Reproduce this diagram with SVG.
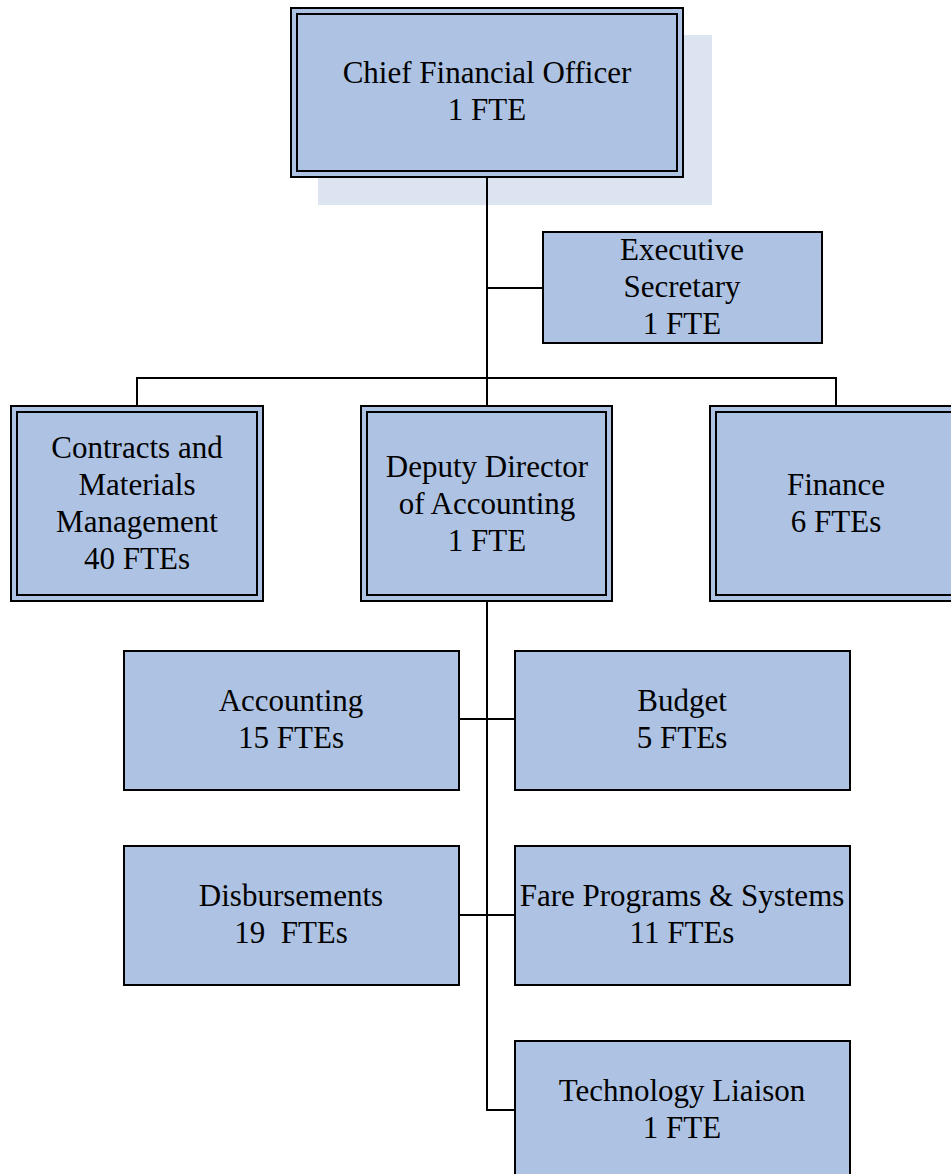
<svg xmlns="http://www.w3.org/2000/svg" width="951" height="1174" viewBox="0 0 951 1174">
<style>
.box{fill:#AEC3E3;stroke:#000;stroke-width:2}
.inner{fill:none;stroke:#000;stroke-width:2}
.t{font-family:"Liberation Serif","Times New Roman",serif;font-size:31px;fill:#000;text-anchor:middle;white-space:pre}
.c{fill:none;stroke:#000;stroke-width:2}
</style>
<rect x="0" y="0" width="951" height="1174" fill="#fff"/>
<g id="cfo-shadow">
<rect x="318" y="35" width="394" height="170" fill="#DCE3F1"/>
</g>
<g id="connectors">
<path class="c" d="M487,177 V406"/>
<path class="c" d="M487,288 H543"/>
<path class="c" d="M137,406 V378 H836 V406"/>
<path class="c" d="M487,601 V1110 H515"/>
<path class="c" d="M459,719 H515"/>
<path class="c" d="M459,915 H515"/>
</g>
<g id="cfo">
<rect class="box" x="291" y="8" width="392" height="169"/>
<rect class="inner" x="297" y="14" width="380" height="157"/>
<text class="t" x="487" y="83">Chief Financial Officer</text>
<text class="t" x="487" y="120">1 FTE</text>
</g>
<g id="exec">
<rect class="box" x="543" y="232" width="279" height="111"/>
<text class="t" x="682" y="260">Executive</text>
<text class="t" x="682" y="297">Secretary</text>
<text class="t" x="682" y="334">1 FTE</text>
</g>
<g id="contracts">
<rect class="box" x="11" y="406" width="252" height="195"/>
<rect class="inner" x="17" y="412" width="240" height="183"/>
<text class="t" x="137" y="458">Contracts and</text>
<text class="t" x="137" y="495">Materials</text>
<text class="t" x="137" y="532">Management</text>
<text class="t" x="137" y="569">40 FTEs</text>
</g>
<g id="deputy">
<rect class="box" x="361" y="406" width="251" height="195"/>
<rect class="inner" x="367" y="412" width="239" height="183"/>
<text class="t" x="487" y="477">Deputy Director</text>
<text class="t" x="487" y="514">of Accounting</text>
<text class="t" x="487" y="551">1 FTE</text>
</g>
<g id="finance">
<rect class="box" x="710" y="406" width="252" height="195"/>
<rect class="inner" x="716" y="412" width="240" height="183"/>
<text class="t" x="836" y="495">Finance</text>
<text class="t" x="836" y="532">6 FTEs</text>
</g>
<g id="accounting">
<rect class="box" x="124" y="651" width="335" height="139"/>
<text class="t" x="291" y="711">Accounting</text>
<text class="t" x="291" y="748">15 FTEs</text>
</g>
<g id="budget">
<rect class="box" x="515" y="651" width="335" height="139"/>
<text class="t" x="682" y="711">Budget</text>
<text class="t" x="682" y="748">5 FTEs</text>
</g>
<g id="disbursements">
<rect class="box" x="124" y="846" width="335" height="139"/>
<text class="t" x="291" y="906">Disbursements</text>
<text class="t" x="291" y="943">19  FTEs</text>
</g>
<g id="fare">
<rect class="box" x="515" y="846" width="335" height="139"/>
<text class="t" x="682" y="906">Fare Programs &amp; Systems</text>
<text class="t" x="682" y="943">11 FTEs</text>
</g>
<g id="tech">
<rect class="box" x="515" y="1041" width="335" height="145"/>
<text class="t" x="682" y="1101">Technology Liaison</text>
<text class="t" x="682" y="1138">1 FTE</text>
</g>
</svg>
